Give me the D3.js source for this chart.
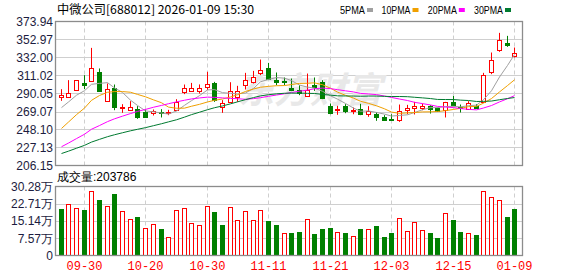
<!DOCTYPE html>
<html>
<head>
<meta charset="utf-8">
<script src="https://cdn.jsdelivr.net/npm/d3@7"></script>
<style>
  html, body { margin: 0; padding: 0; background: #fff; }
  svg { display: block; }
</style>
</head>
<body>
<div id="chart"></div>
<script>
// K-line data
const openP  = [286.5,286.5,294.7,302.8,304.8,314.9,281.5,296.6,273.3,271.4,
                272.5,268.7,267.5,268.7,267.1,270.6,291.6,292.4,292.4,297.4,
                302.5,274.5,280.3,285.4,299.4,303.2,314.5,320.3,305.6,304.4,
                296.6,294.3,287.7,299.4,303.2,275.3,270.6,274.9,269.1,271.8,
                265.6,265.6,262.9,260.9,259.7,270.6,273.3,273.0,274.9,273.0,
                270.6,280.3,274.1,271.8,275.3,280.3,315.3,341.3,349.0,334.3];
const highP  = [295.1,305.6,305.5,311.4,343.2,319.2,301.7,300.5,277.6,281.1,
                275.3,271.4,271.4,271.8,271.0,283.4,300.5,302.4,300.6,315.3,
                303.6,282.3,303.2,299.0,314.1,316.4,329.6,325.7,314.5,308.7,
                307.5,299.7,313.3,308.7,305.6,278.4,275.7,277.6,273.7,278.0,
                275.3,268.3,264.8,265.9,277.2,276.8,280.3,278.4,276.4,273.7,
                280.3,287.3,277.2,281.1,277.6,314.1,337.8,360.7,357.2,343.6];
const lowP   = [281.5,286.0,293.1,295.1,303.6,292.4,281.0,270.6,267.5,269.8,
                260.5,261.7,264.4,262.1,264.8,269.8,289.3,291.9,290.0,293.9,
                280.3,267.5,280.0,280.3,294.7,301.7,311.4,305.6,299.7,299.7,
                292.8,288.1,286.9,293.1,283.5,265.9,265.2,267.1,265.9,264.8,
                262.9,258.2,258.2,259.0,257.0,265.9,265.6,270.6,266.7,269.1,
                262.1,275.3,267.9,271.4,272.2,279.2,312.6,338.6,344.4,332.0];
const closeP = [288.1,290.8,305.2,300.5,319.2,293.5,295.1,274.5,274.1,274.1,
                262.9,262.9,269.4,267.1,268.3,280.3,296.2,296.6,296.6,301.3,
                282.3,278.4,292.7,293.5,306.3,308.7,317.2,306.7,304.0,303.2,
                294.3,291.2,294.7,298.2,284.8,267.9,271.8,269.4,271.4,266.3,
                269.8,262.9,259.7,260.1,269.8,273.7,276.0,276.0,272.5,269.8,
                279.9,277.2,272.9,279.5,272.9,311.4,329.6,352.9,346.7,337.0];
// closes before the first visible day (only feed the moving averages)
const priorClose = [208,203,200,205,198,202,207,204,206,210,
                    205,201,199,203,207,204,209,212,214,213,
                    216,219,224,229,237,258,266,274,282];
// volume in 手, and whether the day closed up (red) or down (green)
const volume = [204000,228000,207000,199000,284000,244000,217000,272000,195000,160000,
                168000,120000,137000,115000,83000,200000,208000,142000,133000,217000,
                191000,133000,211000,155000,195000,155000,200000,151000,133000,98000,
                98000,102000,158000,93000,115000,120000,102000,98000,87000,115000,
                115000,129000,80000,98000,163000,106000,146000,111000,98000,75000,
                186000,155000,102000,98000,89000,284000,257000,244000,168000,203786];
const volUp = [0,1,1,0,1,0,1,0,1,1, 0,1,1,0,1,1,1,1,1,1,
               0,0,1,1,1,1,1,0,0,1, 0,0,1,0,0,0,1,0,1,0,
               1,0,0,0,1,1,1,1,0,0, 1,0,0,1,0,1,1,1,0,0];
const tickIdx = [3, 11, 19, 27, 35, 43, 51, 59];
const tickLabels = ['09-30','10-20','10-30','11-11','11-21','12-03','12-15','01-09'];
const priceTicks = [373.94,352.97,332.00,311.02,290.05,269.07,248.10,227.13,206.15];
const volTicks = [0, 75700, 151400, 227100, 302800];
const maPeriods = [5, 10, 20, 30];
const maColors = ['#a0a0a0', '#f0a000', '#ff00ff', '#007a30'];

const W = 578, H = 276;
const left = 55.5, right = 522.5;
const mainTop = 21.5, mainBottom = 165.5;
const volTop = 186.5, volBottom = 255.5;
const RED = '#ff0000', GREEN = '#008000';

const svg = d3.select('#chart').append('svg')
    .attr('width', W).attr('height', H)
    .style('font-family', 'Arial, "Liberation Sans", sans-serif');

const n = closeP.length;
const x = d3.scaleBand().domain(d3.range(n)).range([56.7, 518.1]);
const cx = (i) => Math.round(x(i) + x.bandwidth() / 2);
const y = d3.scaleLinear().domain([206.15, 373.94]).range([mainBottom, mainTop]);
const yv = d3.scaleLinear().domain([0, 302800]).range([volBottom, volTop]);

// header
svg.append('text')
    .attr('x', 57).attr('y', 14)
    .attr('font-size', 12)
    .attr('font-family', '"Noto Sans CJK SC", sans-serif')
    .attr('textLength', 197).attr('lengthAdjust', 'spacingAndGlyphs')
    .attr('fill', '#000')
    .text('中微公司[688012] 2026-01-09 15:30');

const legendX = [340, 381.5, 427.8, 474];
const legendW = [25, 29, 29, 29];
maPeriods.forEach((p, k) => {
    svg.append('text')
        .attr('x', legendX[k]).attr('y', 14)
        .attr('font-size', 11)
        .attr('textLength', legendW[k]).attr('lengthAdjust', 'spacingAndGlyphs')
        .attr('fill', '#000')
        .text(p + 'PMA');
    svg.append('rect')
        .attr('x', legendX[k] + legendW[k] + 2).attr('y', 8)
        .attr('width', 6).attr('height', 4)
        .attr('fill', maColors[k]);
});

// grids
const grid = svg.append('g');
priceTicks.slice(1, -1).forEach((v) => {
    grid.append('line')
        .attr('x1', left).attr('x2', right)
        .attr('y1', Math.round(y(v)) + 0.5).attr('y2', Math.round(y(v)) + 0.5)
        .attr('stroke', '#cfcfcf');
});
volTicks.slice(1, -1).forEach((v) => {
    grid.append('line')
        .attr('x1', left).attr('x2', right)
        .attr('y1', Math.round(yv(v)) + 0.5).attr('y2', Math.round(yv(v)) + 0.5)
        .attr('stroke', '#cfcfcf');
});
tickIdx.forEach((i) => {
    [[mainTop, mainBottom], [volTop, volBottom]].forEach(([a, b]) => {
        grid.append('line')
            .attr('x1', cx(i) + 0.5).attr('x2', cx(i) + 0.5)
            .attr('y1', a).attr('y2', b)
            .attr('stroke', '#cfcfcf')
            .attr('stroke-dasharray', '4,3');
    });
});

// watermark
svg.append('text')
    .attr('x', 238).attr('y', 103)
    .attr('font-size', 36).attr('font-weight', 'bold').attr('font-style', 'italic')
    .attr('font-family', '"Noto Sans CJK SC", sans-serif')
    .attr('fill', '#e8e8e8')
    .text('东方财富');

// candles
const candles = svg.append('g');
d3.range(n).forEach((i) => {
    const up = closeP[i] >= openP[i];
    const c = cx(i);
    const col = up ? RED : GREEN;
    candles.append('line')
        .attr('x1', c + 0.5).attr('x2', c + 0.5)
        .attr('y1', y(highP[i])).attr('y2', y(lowP[i]))
        .attr('stroke', col);
    const top = Math.round(y(Math.max(openP[i], closeP[i])));
    const bot = Math.round(y(Math.min(openP[i], closeP[i])));
    if (up) {
        candles.append('rect')
            .attr('x', c - 1.5).attr('y', top + 0.5)
            .attr('width', 4).attr('height', Math.max(1, bot - top))
            .attr('fill', '#fff').attr('stroke', RED);
    } else {
        candles.append('rect')
            .attr('x', c - 2).attr('y', top)
            .attr('width', 5).attr('height', Math.max(2, bot - top + 1))
            .attr('fill', GREEN);
    }
});

// moving averages
const allClose = priorClose.concat(closeP);
const off = priorClose.length;
maPeriods.forEach((p, k) => {
    const ma = d3.range(n).map((i) => d3.mean(allClose.slice(off + i - p + 1, off + i + 1)));
    svg.append('path')
        .datum(ma)
        .attr('fill', 'none')
        .attr('stroke', maColors[k])
        .attr('stroke-width', 1)
        .attr('d', d3.line().x((d, i) => cx(i) + 0.5).y((d) => y(d)));
});

// volume bars
const vols = svg.append('g');
d3.range(n).forEach((i) => {
    const c = cx(i);
    const top = Math.round(yv(volume[i]));
    if (volUp[i]) {
        vols.append('rect')
            .attr('x', c - 1.5).attr('y', top + 0.5)
            .attr('width', 4).attr('height', volBottom - top - 0.5)
            .attr('fill', '#fff').attr('stroke', RED);
    } else {
        vols.append('rect')
            .attr('x', c - 2).attr('y', top)
            .attr('width', 5).attr('height', volBottom - top)
            .attr('fill', GREEN);
    }
});

// frames
[[mainTop, mainBottom], [volTop, volBottom]].forEach(([a, b]) => {
    svg.append('rect')
        .attr('x', left).attr('y', a)
        .attr('width', right - left).attr('height', b - a)
        .attr('fill', 'none').attr('stroke', '#8c8c8c').attr('stroke-width', 1.3);
});

// axis labels
priceTicks.forEach((v) => {
    svg.append('text')
        .attr('x', 53).attr('y', y(v)).attr('dy', '0.36em')
        .attr('text-anchor', 'end').attr('font-size', 12)
        .attr('fill', '#1c1c40')
        .text(v.toFixed(2));
});
volTicks.forEach((v) => {
    svg.append('text')
        .attr('x', 53).attr('y', yv(v)).attr('dy', '0.36em')
        .attr('text-anchor', 'end').attr('font-size', 12)
        .attr('fill', '#1c1c40')
        .text(v === 0 ? '0' : (v / 10000).toFixed(2) + '万');
});
svg.append('text')
    .attr('x', 57).attr('y', 181)
    .attr('font-size', 12).attr('fill', '#000')
    .text('成交量:' + volume[n - 1]);

tickIdx.forEach((i, k) => {
    svg.append('text')
        .attr('x', cx(i) + 0.5).attr('y', 270)
        .attr('text-anchor', 'middle')
        .attr('font-size', 12)
        .attr('font-family', '"Liberation Mono", "DejaVu Sans Mono", monospace')
        .attr('fill', RED)
        .text(tickLabels[k]);
});
</script>
</body>
</html>
